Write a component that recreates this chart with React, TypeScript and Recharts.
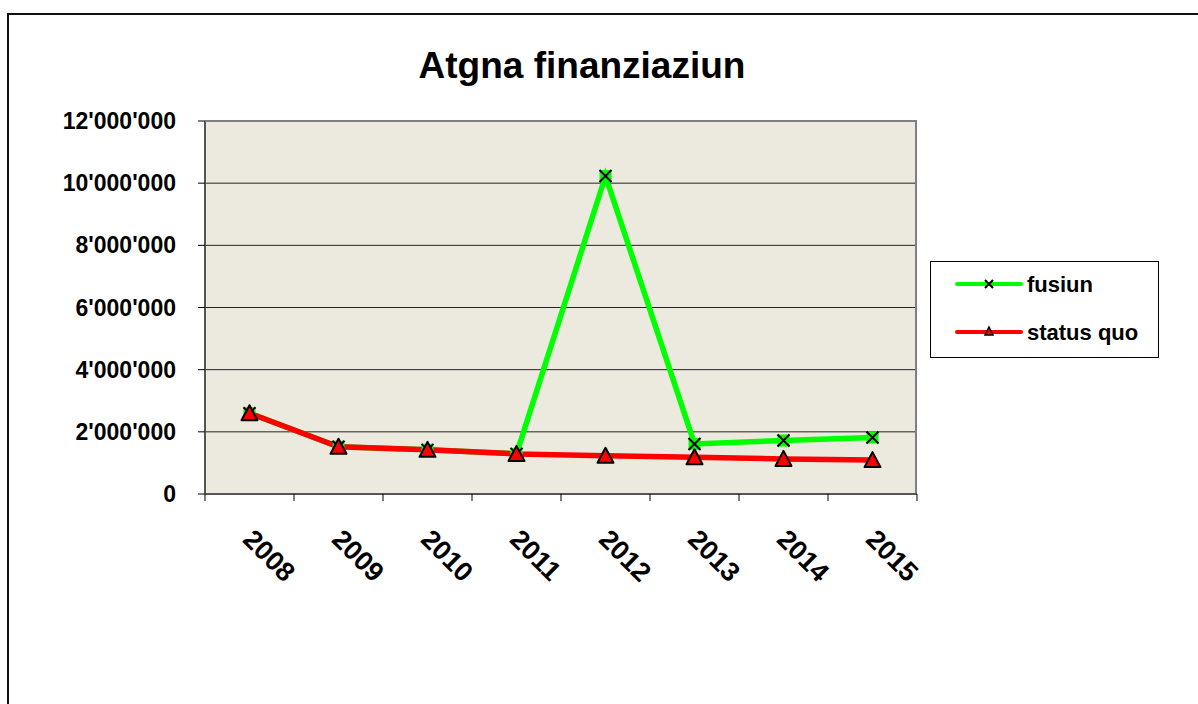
import { LineChart, Line, XAxis, YAxis, CartesianGrid } from 'recharts';

const YEARS = ['2008', '2009', '2010', '2011', '2012', '2013', '2014', '2015'];
const FUSIUN = [2600000, 1520000, 1420000, 1290000, 10230000, 1610000, 1720000, 1820000];
const STATUS_QUO = [2600000, 1520000, 1420000, 1290000, 1230000, 1180000, 1130000, 1090000];
const Y_TICKS = [0, 2000000, 4000000, 6000000, 8000000, 10000000, 12000000];

const FONT = '"Liberation Sans", Arial, sans-serif';
const GREEN = '#00FF00';
const RED = '#FF0000';

const W = 1198;
const H = 704;
const PLOT_LEFT = 205;
const PLOT_RIGHT = 917;
const PLOT_TOP = 121;
const PLOT_BOTTOM = 494;
const BAND = (PLOT_RIGHT - PLOT_LEFT) / YEARS.length;

const data = YEARS.map((year, i) => ({
  year,
  fusiun: FUSIUN[i],
  statusQuo: STATUS_QUO[i],
}));

const fmt = (n: number) => String(n).replace(/\B(?=(\d{3})+(?!\d))/g, "'");

function CrossDot({ cx, cy }: any) {
  if (cx == null || cy == null) return null;
  return (
    <g>
      <rect x={cx - 6} y={cy - 6} width={12} height={12} fill={GREEN} />
      <path
        d={`M${cx - 6},${cy - 6}L${cx + 6},${cy + 6}M${cx + 6},${cy - 6}L${cx - 6},${cy + 6}`}
        stroke="#000"
        strokeWidth={2}
      />
    </g>
  );
}

function TriangleDot({ cx, cy }: any) {
  if (cx == null || cy == null) return null;
  return (
    <polygon
      points={`${cx},${cy - 8} ${cx + 8},${cy + 7} ${cx - 8},${cy + 7}`}
      fill={RED}
      stroke="#000"
      strokeWidth={2}
      strokeLinejoin="round"
    />
  );
}

function XTick({ x, y, payload, index }: any) {
  const ax = x - 8;
  const ay = y + 47;
  return (
    <g>
      <line x1={x - BAND / 2} y1={y} x2={x - BAND / 2} y2={y + 7} stroke="#000" />
      {index === YEARS.length - 1 && (
        <line x1={x + BAND / 2} y1={y} x2={x + BAND / 2} y2={y + 7} stroke="#000" />
      )}
      <text
        x={ax}
        y={ay}
        transform={`rotate(45, ${ax}, ${ay})`}
        textAnchor="start"
        fontFamily={FONT}
        fontWeight="bold"
        fontSize={27}
        fill="#000"
      >
        {payload.value}
      </text>
    </g>
  );
}

// legend drawn beside the chart, so it doesn't eat into the plot area
function LegendBox() {
  return (
    <svg width={229} height={97} style={{ display: 'block' }}>
      <rect x={0.5} y={0.5} width={228} height={96} fill="#fff" stroke="#000" />
      <line x1={27} y1={23} x2={91} y2={23} stroke={GREEN} strokeWidth={4} strokeLinecap="round" />
      <path d="M55,19L63,27M63,19L55,27" stroke="#000" strokeWidth={2} />
      <text x={97} y={31} fontFamily={FONT} fontWeight="bold" fontSize={22}>fusiun</text>
      <line x1={27} y1={71} x2={91} y2={71} stroke={RED} strokeWidth={4} strokeLinecap="round" />
      <polygon points="59,66 63,74 55,74" fill={RED} stroke="#000" strokeWidth={1.5} />
      <text x={97} y={79} fontFamily={FONT} fontWeight="bold" fontSize={22}>status quo</text>
    </svg>
  );
}

export default function App() {
  return (
    <div style={{ position: 'absolute', left: 0, top: 0, width: W, height: H, overflow: 'hidden', background: '#fff' }}>
      <div
        style={{
          position: 'absolute',
          left: 7,
          top: 13,
          width: W,
          height: H,
          border: '2px solid #111',
        }}
      />
      <div
        style={{
          position: 'absolute',
          left: 0,
          top: 48,
          width: 1164,
          textAlign: 'center',
          fontFamily: FONT,
          fontWeight: 'bold',
          fontSize: 37,
          lineHeight: '36px',
        }}
      >
        Atgna finanziaziun
      </div>
      <div style={{ position: 'absolute', left: 0, top: 0 }}>
        <LineChart
          width={W}
          height={H}
          data={data}
          margin={{ top: PLOT_TOP, right: W - PLOT_RIGHT, bottom: H - PLOT_BOTTOM - 80, left: 0 }}
        >
          <CartesianGrid vertical={false} fill="#ECE9DE" stroke="#000" strokeOpacity={0.85} />
          <XAxis
            dataKey="year"
            scale="band"
            height={80}
            tickSize={0}
            tickMargin={0}
            tickLine={false}
            axisLine={{ stroke: '#555', strokeWidth: 2 }}
            tick={<XTick />}
            interval={0}
          />
          <YAxis
            width={PLOT_LEFT}
            domain={[0, 12000000]}
            ticks={Y_TICKS}
            tickFormatter={fmt}
            tickSize={7}
            tickMargin={22}
            tickLine={{ stroke: '#000' }}
            axisLine={{ stroke: '#555', strokeWidth: 2 }}
            tick={{ fontFamily: FONT, fontWeight: 'bold', fontSize: 23, fill: '#000' }}
            interval={0}
          />
          <Line
            dataKey="fusiun"
            type="linear"
            stroke={GREEN}
            strokeWidth={5.5}
            dot={<CrossDot />}
            activeDot={false}
            isAnimationActive={false}
          />
          <Line
            dataKey="statusQuo"
            type="linear"
            stroke={RED}
            strokeWidth={5.5}
            dot={<TriangleDot />}
            activeDot={false}
            isAnimationActive={false}
          />
        </LineChart>
      </div>
      <div
        style={{
          position: 'absolute',
          left: PLOT_LEFT,
          top: PLOT_TOP - 1,
          width: PLOT_RIGHT - PLOT_LEFT,
          height: PLOT_BOTTOM - PLOT_TOP,
          borderTop: '2px solid #808080',
          borderRight: '2px solid #808080',
          boxSizing: 'border-box',
          pointerEvents: 'none',
        }}
      />
      <div style={{ position: 'absolute', left: 930, top: 261 }}>
        <LegendBox />
      </div>
    </div>
  );
}
